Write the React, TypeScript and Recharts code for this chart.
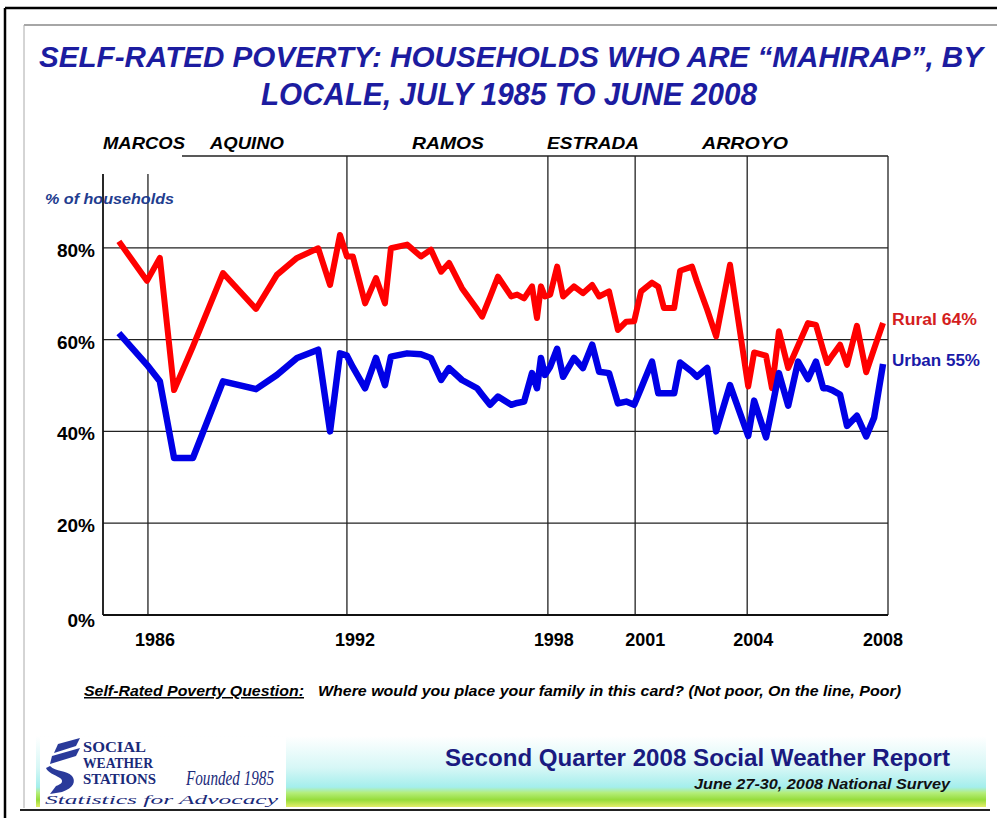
import React from 'react';
import { LineChart, Line, XAxis, YAxis, CartesianGrid } from 'recharts';

// Survey time (decimal year) and % of households who rate themselves "mahirap"
const surveyTimes = [
  1985.28, 1986.13, 1986.52, 1986.95, 1987.52, 1988.43, 1989.43, 1990.06, 1990.67, 1991.31,
  1991.67, 1991.97, 1992.18, 1992.36, 1992.73, 1993.06, 1993.33, 1993.51, 1994.0, 1994.42,
  1994.72, 1995.03, 1995.27, 1995.66, 1996.12, 1996.27, 1996.51, 1996.75, 1997.15, 1997.33,
  1997.54, 1997.78, 1997.93, 1998.05, 1998.17, 1998.33, 1998.54, 1998.72, 1999.05, 1999.32,
  1999.6, 1999.81, 2000.11, 2000.38, 2000.63, 2000.87, 2001.08, 2001.41, 2001.6, 2001.77,
  2002.08, 2002.26, 2002.62, 2002.77, 2003.08, 2003.35, 2003.77, 2004.32, 2004.5, 2004.86,
  2005.04, 2005.25, 2005.53, 2005.83, 2006.13, 2006.37, 2006.59, 2006.71, 2006.86, 2007.1,
  2007.31, 2007.61, 2007.89, 2008.13, 2008.4,
];
const ruralPct = [
  81.4, 72.8, 77.8, 49.0, 58.5, 74.5, 66.7, 74.1, 77.8, 79.9,
  71.9, 82.8, 78.1, 78.1, 67.9, 73.4, 67.9, 79.9, 80.7, 78.1,
  79.6, 74.8, 76.7, 71.2, 66.6, 65.0, 69.3, 73.7, 69.4, 69.8,
  69.0, 71.6, 64.7, 71.6, 69.4, 69.8, 75.9, 69.4, 71.6, 70.1,
  71.9, 69.4, 70.5, 62.1, 63.9, 64.0, 70.5, 72.4, 71.5, 66.9,
  66.9, 75.0, 75.9, 72.6, 66.5, 60.7, 76.3, 49.8, 57.2, 56.5,
  49.4, 61.8, 53.8, 58.7, 63.6, 63.2, 57.7, 54.9, 56.5, 58.9,
  54.5, 63.0, 52.9, 58.0, 63.6,
];
const urbanPct = [
  61.4, 54.5, 50.9, 34.2, 34.2, 50.9, 49.2, 52.3, 56.0, 57.8,
  40.0, 57.0, 56.5, 54.0, 49.4, 56.0, 50.1, 56.3, 57.0, 56.8,
  56.0, 51.2, 53.8, 51.2, 49.4, 48.0, 45.8, 47.6, 45.8, 46.2,
  46.5, 52.7, 49.4, 56.0, 52.3, 54.1, 58.0, 51.9, 56.0, 53.8,
  58.9, 53.0, 52.7, 46.1, 46.5, 45.8, 49.4, 55.2, 48.3, 48.3,
  48.3, 55.0, 53.0, 51.9, 53.8, 40.0, 50.1, 39.0, 46.7, 38.7,
  45.0, 52.7, 45.6, 55.2, 51.4, 55.2, 49.4, 49.4, 49.0, 48.0,
  41.2, 43.4, 38.9, 43.0, 54.7,
];

// Presidential transition lines on the time axis, and their labels
const yearTickValues = [1986.16, 1992.18, 1998.26, 2000.9, 2004.29, 2008.55];
const yearTickLabels = ['1986', '1992', '1998', '2001', '2004', '2008'];
const pctTicks = [0, 20, 40, 60, 80, 100];
const presidents = ['MARCOS', 'AQUINO', 'RAMOS', 'ESTRADA', 'ARROYO'];
const seriesNames = ['Rural', 'Urban'];
const latestPct = [64, 55];

const data = surveyTimes.map((t, i) => ({ t, rural: ruralPct[i], urban: urbanPct[i] }));

const SANS = '"Liberation Sans", Arial, Helvetica, sans-serif';
const SERIF = '"Liberation Serif", "DejaVu Serif", serif';

const xLabelShift: Record<string, number> = { '1986': 7, '1992': 8, '1998': 6, '2001': 10, '2004': 6, '2008': -5 };

const XTick = (props: any) => {
  const { x, y, payload } = props;
  const idx = yearTickValues.indexOf(payload.value);
  const label = idx >= 0 ? yearTickLabels[idx] : '';
  return (
    <text x={x + (xLabelShift[label] || 0)} y={y + 23} textAnchor="middle" fontFamily={SANS}
      fontWeight="bold" fontSize={19} fill="#000" textLength={40} lengthAdjust="spacingAndGlyphs">
      {label}
    </text>
  );
};

const YTick = (props: any) => {
  const { x, y, payload } = props;
  if (payload.value === 100) return <g />;
  const zero = payload.value === 0;
  return (
    <text x={x} y={y + (zero ? 12 : 9)} textAnchor="end" fontFamily={SANS} fontWeight="bold"
      fontSize={19} fill="#000">
      {`${payload.value}%`}
    </text>
  );
};

const presX = [103, 210, 412, 547, 702];
const presW = [82, 74, 72, 92, 86];

export default function App() {
  return (
    <div style={{ position: 'absolute', left: 0, top: 0, width: 997, height: 820, background: '#fff' }}>
      <div style={{ position: 'absolute', left: 0, top: 0 }}>
        <LineChart width={997} height={820} data={data}
          margin={{ top: 156, right: 109, bottom: 175, left: 53 }}>
          <CartesianGrid stroke="#222" strokeWidth={1.3} />
          <XAxis dataKey="t" type="number" domain={[1984.8, 2008.55]} allowDataOverflow
            ticks={yearTickValues} tick={<XTick />} tickLine={false} height={30}
            axisLine={{ stroke: '#111', strokeWidth: 2 }} interval={0} />
          <YAxis type="number" domain={[0, 100]} ticks={pctTicks} tick={<YTick />} width={50}
            tickLine={false} axisLine={{ stroke: '#111', strokeWidth: 1.5 }} interval={0} />
          <Line type="linear" dataKey="rural" name={seriesNames[0]} stroke="#ff0000" strokeWidth={6}
            strokeLinejoin="round" dot={false} isAnimationActive={false} />
          <Line type="linear" dataKey="urban" name={seriesNames[1]} stroke="#0000e6" strokeWidth={6.5}
            strokeLinejoin="round" dot={false} isAnimationActive={false} />
        </LineChart>
      </div>
      <svg width={997} height={820} style={{ position: 'absolute', left: 0, top: 0, pointerEvents: 'none' }}>
        <defs>
          <linearGradient id="band" x1="0" y1="0" x2="0" y2="1">
            <stop offset="0" stopColor="#ffffff" />
            <stop offset="0.45" stopColor="#d6f7f6" />
            <stop offset="0.72" stopColor="#a4eeec" />
            <stop offset="0.8" stopColor="#b4ee7a" />
            <stop offset="0.9" stopColor="#96dc3a" />
            <stop offset="1" stopColor="#e4ee6a" />
          </linearGradient>
        </defs>
        {/* frame */}
        <line x1={5} y1={8} x2={997} y2={8} stroke="#000" strokeWidth={2.5} />
        <line x1={5} y1={8} x2={5} y2={818} stroke="#000" strokeWidth={2.5} />
        <line x1={24} y1={25} x2={997} y2={25} stroke="#888" strokeWidth={1.5} />
        <line x1={24} y1={25} x2={24} y2={808} stroke="#aaa" strokeWidth={1} />
        <line x1={20} y1={810} x2={990} y2={810} stroke="#222" strokeWidth={2} />

        {/* title */}
        <text x={511} y={67} textAnchor="middle" fontFamily={SANS} fontWeight="bold" fontStyle="italic"
          fontSize={30} fill="#1c1ca0" textLength={944} lengthAdjust="spacingAndGlyphs">
          SELF-RATED POVERTY: HOUSEHOLDS WHO ARE “MAHIRAP”, BY
        </text>
        <text x={509} y={105} textAnchor="middle" fontFamily={SANS} fontWeight="bold" fontStyle="italic"
          fontSize={31} fill="#1c1ca0" textLength={496} lengthAdjust="spacingAndGlyphs">
          LOCALE, JULY 1985 TO JUNE 2008
        </text>

        {/* president labels */}
        <rect x={100} y={126} width={82} height={48} fill="#fff" />
        {presidents.map((p, i) => (
          <text key={p} x={presX[i]} y={149} fontFamily={SANS} fontWeight="bold" fontStyle="italic"
            fontSize={17} fill="#000" textLength={presW[i]} lengthAdjust="spacingAndGlyphs">{p}</text>
        ))}

        <text x={45} y={204} fontFamily={SANS} fontWeight="bold" fontStyle="italic" fontSize={15}
          fill="#1f3d8f" textLength={129} lengthAdjust="spacingAndGlyphs">% of households</text>

        {/* end labels */}
        <text x={892} y={325} fontFamily={SANS} fontWeight="bold" fontSize={16} fill="#d41e1e"
          textLength={85} lengthAdjust="spacingAndGlyphs">{`${seriesNames[0]} ${latestPct[0]}%`}</text>
        <text x={892} y={366} fontFamily={SANS} fontWeight="bold" fontSize={16} fill="#1a1aa8"
          textLength={88} lengthAdjust="spacingAndGlyphs">{`${seriesNames[1]} ${latestPct[1]}%`}</text>

        {/* question */}
        <text x={84} y={696} fontFamily={SANS} fontWeight="bold" fontStyle="italic" fontSize={15}
          fill="#000" textDecoration="underline" textLength={220} lengthAdjust="spacingAndGlyphs">
          Self-Rated Poverty Question:
        </text>
        <text x={318} y={696} fontFamily={SANS} fontWeight="bold" fontStyle="italic" fontSize={15}
          fill="#000" textLength={583} lengthAdjust="spacingAndGlyphs">
          Where would you place your family in this card?  (Not poor, On the line, Poor)
        </text>

        {/* footer band */}
        <rect x={36} y={736} width={950} height={71} fill="url(#band)" />
        <rect x={40} y={737} width={246} height={70} fill="#fff" />
        <g fill="#2a3a9a">
          <path d="M58,744 L80,738 L76,746 L54,753 Z" />
          <path d="M52,756 L80,748 L76,756 L50,764 Z" />
          <path d="M50,766 C56,772 66,770 72,776 C76,781 74,788 62,792 L50,794 L56,786 C62,784 64,781 60,778 C54,774 48,773 46,768 Z" />
        </g>
        <text x={83} y={752} fontFamily={SERIF} fontWeight="bold" fontSize={15} fill="#1a2a7a" textLength={63} lengthAdjust="spacingAndGlyphs">SOCIAL</text>
        <text x={83} y={768} fontFamily={SERIF} fontWeight="bold" fontSize={15} fill="#1a2a7a" textLength={70} lengthAdjust="spacingAndGlyphs">WEATHER</text>
        <text x={83} y={784} fontFamily={SERIF} fontWeight="bold" fontSize={15} fill="#1a2a7a" textLength={73} lengthAdjust="spacingAndGlyphs">STATIONS</text>
        <text x={186} y={785} fontFamily={SERIF} fontStyle="italic" fontSize={20} fill="#1a2a7a"
          textLength={88} lengthAdjust="spacingAndGlyphs">Founded 1985</text>
        <text x={45} y={804} fontFamily={SERIF} fontStyle="italic" fontSize={12} fill="#1a2a7a"
          textLength={233} lengthAdjust="spacingAndGlyphs">Statistics for Advocacy</text>

        <text x={445} y={766} fontFamily={SANS} fontWeight="bold" fontSize={23} fill="#1a1a80"
          textLength={505} lengthAdjust="spacingAndGlyphs">Second Quarter 2008 Social Weather Report</text>
        <text x={950} y={789} textAnchor="end" fontFamily={SANS} fontWeight="bold" fontStyle="italic"
          fontSize={14} fill="#111" textLength={256} lengthAdjust="spacingAndGlyphs">June 27-30, 2008 National Survey</text>
      </svg>
    </div>
  );
}
